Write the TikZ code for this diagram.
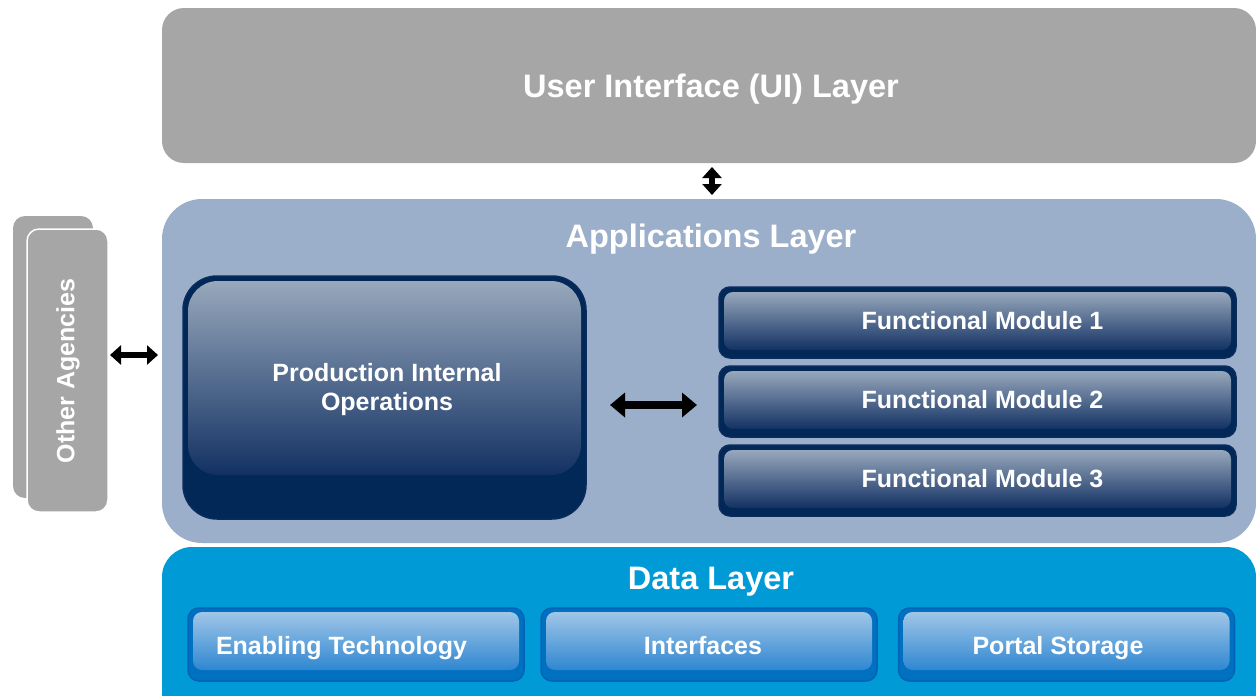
\documentclass[tikz,border=0pt]{standalone}
\usepackage{fontspec}
\setmainfont{Liberation Sans}
\usetikzlibrary{arrows.meta}

\definecolor{uigray}{HTML}{A6A6A6}
\definecolor{appblue}{HTML}{9BAECA}
\definecolor{datablue}{HTML}{009BD7}
\definecolor{navy}{HTML}{012857}
\definecolor{navyedge}{HTML}{0A2B5C}
\definecolor{navytop}{HTML}{98A8BC}
\definecolor{navybot}{HTML}{123163}
\definecolor{cobalt}{HTML}{0070C0}
\definecolor{cobaltedge}{HTML}{0063B6}
\definecolor{skytop}{HTML}{A0C6E7}
\definecolor{skybot}{HTML}{2F87D1}

\tikzset{
  title/.style={text=white, inner sep=0pt, anchor=base, font=\fontsize{32.5}{38}\selectfont\bfseries},
  label/.style={text=white, inner sep=0pt, align=center, font=\fontsize{25}{29}\selectfont\bfseries},
  layerbox/.style={rounded corners=#1, inner sep=0pt, outer sep=0pt},
  navybox/.style={draw=navyedge, line width=1.5pt, fill=navy, rounded corners=#1, inner sep=0pt, outer sep=0pt},
  navyshine/.style={top color=navytop, bottom color=navybot, rounded corners=#1},
  cobaltbox/.style={draw=cobaltedge, line width=1.5pt, fill=cobalt, rounded corners=#1, inner sep=0pt, outer sep=0pt},
  cobaltshine/.style={top color=skytop, bottom color=skybot, rounded corners=#1},
  bigarrow/.style={line width=8pt, {Triangle[length=15pt,width=24pt]}-{Triangle[length=15pt,width=24pt]}},
  smallarrow/.style={line width=6pt, {Triangle[length=11pt,width=19pt]}-{Triangle[length=11pt,width=19pt]}},
}

\begin{document}
\begin{tikzpicture}[x=1pt,y=-1pt]
\useasboundingbox (0,0) rectangle (1256,696);
\clip (0,0) rectangle (1256,696);

% three stacked layers
\node[layerbox=22, fill=uigray, minimum width=1094pt, minimum height=155pt] (ui) at (709,85.5) {};
\node[title] (uititle) at (711,97.5) {User Interface (UI) Layer};

\node[layerbox=40, fill=appblue, minimum width=1094pt, minimum height=344pt] (apps) at (709,371) {};
\node[title] (apptitle) at (711,247.5) {Applications Layer};

\node[layerbox=30, fill=datablue, minimum width=1094pt, minimum height=180pt] (data) at (709,637) {};
\node[title] (datatitle) at (711,589.5) {Data Layer};

% other agencies (stacked cards)
\node[layerbox=12, fill=uigray, minimum width=80pt, minimum height=282pt] (oaback) at (53,357) {};
\node[layerbox=12, fill=uigray, draw=white, line width=1.5pt, minimum width=81pt, minimum height=283pt] (oa) at (67.5,370.5) {};
\node[label, rotate=90] (oatext) at (68,371) {Other Agencies};

% production internal operations
\node[navybox=34, minimum width=403pt, minimum height=243pt] (prod) at (384.5,397.5) {};
\path[navyshine=30] ([shift={(5,5)}]prod.north west) rectangle ([shift={(-5,-44)}]prod.south east);
\node[label] (prodtext) at (387,390) {Production Internal\\Operations};

% functional modules
\foreach \i/\yy in {1/322.5, 2/401.5, 3/480.5} {
  \node[navybox=11, minimum width=517pt, minimum height=71pt] (fm\i) at (977.5,\yy) {};
  \path[navyshine=9] ([shift={(5,5)}]fm\i.north west) rectangle ([shift={(-5,-8)}]fm\i.south east);
  \node[label, anchor=base] (fmtext\i) at (982.5,\yy+6.5) {Functional Module \i};
}

% data layer components
\foreach \i/\cx/\tx/\txt in {1/356/341.5/Enabling Technology, 2/709/703/Interfaces, 3/1066.5/1058/Portal Storage} {
  \node[cobaltbox=11, minimum width=336pt, minimum height=73pt] (db\i) at (\cx,644.5) {};
  \path[cobaltshine=9] ([shift={(5,4)}]db\i.north west) rectangle ([shift={(-5,-11)}]db\i.south east);
  \node[label, anchor=base] (dbtext\i) at (\tx,654) {\txt};
}

% connectors
\draw[smallarrow, shorten <=4pt, shorten >=4pt] ([xshift=3pt]ui.south) -- ([xshift=3pt]ui.south |- apps.north);
\draw[smallarrow, shorten <=2pt, shorten >=4pt] ([yshift=15.5pt]oa.east) -- ([yshift=15.5pt]oa.east -| apps.west);
\draw[bigarrow, shorten <=24pt, shorten >=22pt] ([yshift=-3.5pt]prod.east |- fm2.west) -- ([yshift=-3.5pt]fm2.west);
\end{tikzpicture}
\end{document}
